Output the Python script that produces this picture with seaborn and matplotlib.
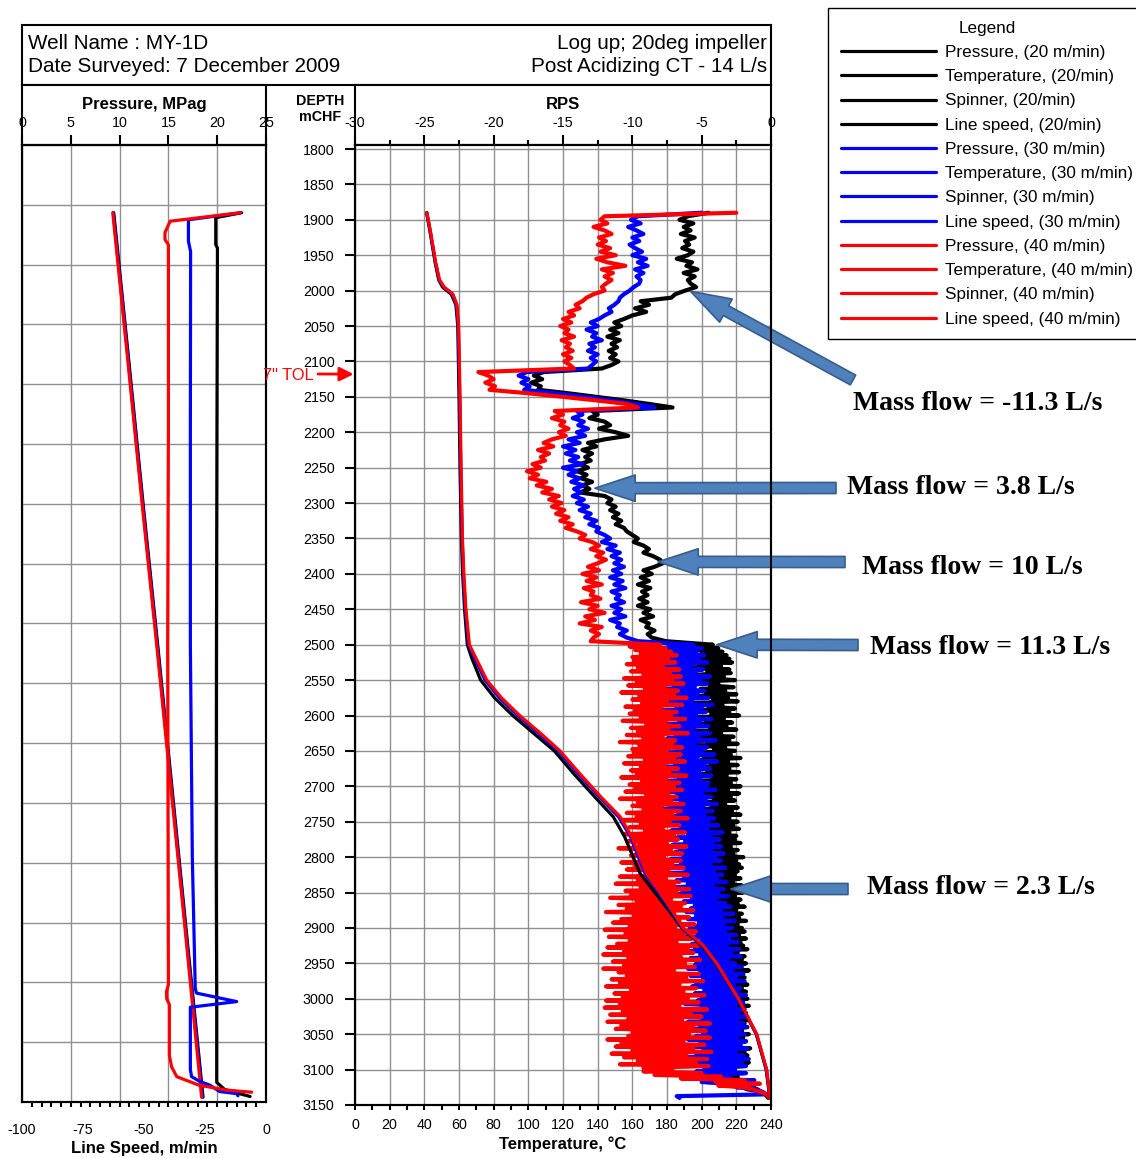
import numpy as np
import matplotlib
matplotlib.use("Agg")
import matplotlib.pyplot as plt
from matplotlib.ticker import MultipleLocator
import seaborn as sns

# ---------------- survey data (depth in mCHF) ----------------
# Spinner (RPS): every 5 m from 1890 to 2495 m, every 2.5 m from 2500 to 3140 m
spin_depth = np.concatenate([np.arange(1890, 2500, 5), np.arange(2500, 3140.1, 2.5)])

spin_20_upper = [
    -4.5, -6.0, -6.6, -5.6, -6.3, -5.8, -6.5, -5.5, -6.2, -5.9,
    -6.4, -5.6, -6.0, -6.8, -5.7, -6.1, -5.3, -6.3, -5.5, -6.0,
    -5.8, -5.4, -6.2, -6.9, -7.2, -9.4, -8.8, -9.8, -9.0, -10.0,
    -10.6, -11.3, -10.8, -11.6, -11.0, -11.8, -10.9, -11.5, -11.1, -11.7,
    -11.2, -11.6, -11.0, -11.5, -12.2, -16.4, -17.1, -16.5, -17.3, -16.6,
    -16.8, -14.6, -12.6, -10.6, -8.8, -7.1, -12.9, -12.5, -13.1, -12.0,
    -11.6, -12.4, -11.2, -10.3, -12.0, -13.2, -12.6, -13.6, -12.9, -13.4,
    -13.0, -13.8, -13.2, -14.0, -13.3, -13.7, -12.9, -13.6, -13.1, -13.8,
    -12.0, -11.5, -11.8, -11.2, -11.6, -11.0, -11.4, -10.8, -11.2, -10.6,
    -10.4, -10.0, -9.6, -9.9, -9.2, -8.8, -9.2, -8.5, -8.0, -7.8,
    -8.4, -9.2, -8.6, -9.4, -8.8, -9.6, -8.7, -9.3, -8.9, -9.5,
    -8.9, -9.6, -8.7, -9.2, -8.5, -9.4, -8.8, -9.0, -8.4, -8.9,
    -8.6, -7.6,
]
spin_20_lower = [
    -4.2, -5.3, -3.8, -5.6, -3.5, -5.0, -3.2, -5.6, -3.0, -4.9, -2.8, -5.2, -3.6, -6.0, -3.0, -4.6, -2.9, -5.4, -3.4, -4.8,
    -2.6, -5.8, -3.8, -4.4, -2.7, -5.1, -3.3, -4.7, -2.5, -5.5, -3.1, -4.2, -2.4, -5.9, -3.5, -4.5, -2.6, -5.0, -3.0, -4.3,
    -2.3, -5.6, -3.4, -4.7, -2.8, -5.3, -3.2, -4.4, -2.5, -5.7, -3.6, -4.9, -2.7, -5.2, -3.0, -4.6, -2.4, -5.4, -3.3, -4.1,
    -2.6, -5.5, -2.9, -4.8, -2.2, -5.0, -3.1, -4.3, -2.4, -5.3, -3.0, -4.6, -2.3, -5.1, -3.2, -4.2, -2.5, -5.6, -2.9, -4.4,
    -2.2, -5.0, -3.1, -4.8, -2.3, -5.3, -2.9, -4.1, -2.6, -5.4, -3.3, -4.3, -2.4, -5.0, -2.8, -4.6, -2.2, -5.5, -3.0, -4.4,
    -2.4, -4.8, -2.7, -5.2, -2.3, -4.6, -3.0, -4.1, -2.5, -5.1, -2.6, -4.4, -2.2, -5.3, -2.9, -4.7, -2.4, -4.9, -2.7, -4.3,
    -2.0, -4.6, -2.5, -4.9, -2.3, -4.2, -2.1, -4.7, -2.4, -5.0, -2.6, -4.5, -2.2, -4.4, -2.7, -4.8, -2.1, -4.3, -2.5, -4.6,
    -2.0, -4.4, -2.6, -4.9, -2.2, -4.1, -2.4, -4.6, -1.9, -4.5, -2.5, -4.2, -2.1, -4.7, -2.3, -4.0, -1.8, -4.4, -2.4, -4.1,
    -2.1, -4.6, -1.9, -4.0, -2.3, -4.4, -1.8, -3.9, -2.2, -4.5, -2.0, -4.1, -1.7, -4.2, -2.4, -3.8, -1.9, -4.3, -2.1, -3.9,
    -1.8, -4.4, -2.2, -3.9, -1.6, -4.1, -2.0, -3.7, -1.9, -4.3, -2.3, -3.8, -1.7, -4.0, -2.1, -3.6, -1.8, -4.2, -2.0, -3.7,
    -1.7, -3.9, -2.2, -4.2, -1.6, -3.6, -2.0, -4.0, -1.8, -3.8, -2.3, -3.5, -1.6, -4.1, -1.9, -3.7, -1.7, -3.9, -2.1, -3.6,
    -1.6, -4.2, -2.0, -3.7, -1.8, -3.9, -2.2, -3.5, -1.5, -4.0, -1.9, -3.6, -1.7, -4.3, -2.1, -3.8, -1.6, -4.5, -2.0, -3.7,
    -2.6, -5.2, -2.0, -6.8, -2.4, -6.0, -1.5, -4.7, -2.0, -3.0, -1.2, -1.8, -1.0, -0.6, -0.4, -0.3, -0.2,
]

spin_30_upper = [
    -5.0, -9.6, -10.1, -9.4, -10.3, -9.7, -9.2, -10.0, -9.5, -10.2,
    -9.8, -9.3, -10.0, -9.0, -9.6, -8.9, -9.8, -9.2, -9.7, -9.4,
    -9.5, -9.9, -10.2, -10.6, -10.9, -11.0, -11.3, -11.7, -11.5, -12.0,
    -12.4, -13.0, -12.5, -13.3, -12.6, -12.9, -12.2, -13.1, -12.7, -13.2,
    -12.5, -13.0, -12.6, -12.9, -13.2, -17.6, -18.2, -17.5, -18.0, -17.4,
    -17.8, -15.5, -13.5, -11.5, -9.8, -8.4, -14.0, -13.6, -14.3, -13.5,
    -13.9, -13.2, -14.0, -13.4, -14.6, -13.8, -15.0, -14.1, -14.8, -13.9,
    -14.5, -13.6, -15.0, -14.0, -14.6, -13.8, -14.4, -13.5, -14.2, -13.7,
    -14.3, -13.5, -14.0, -13.2, -13.8, -13.0, -13.4, -12.6, -13.1, -12.4,
    -12.6, -12.0, -11.6, -12.2, -11.2, -11.8, -10.9, -11.5, -10.8, -11.3,
    -10.6, -11.4, -10.8, -11.6, -10.7, -11.3, -10.5, -11.5, -10.9, -11.2,
    -10.6, -11.5, -10.8, -11.3, -10.5, -11.6, -10.9, -11.1, -10.4, -10.9,
    -10.4, -9.6,
]
spin_30_lower = [
    -5.6, -7.4, -5.0, -7.8, -5.4, -7.0, -4.8, -8.0, -5.2, -7.2, -4.6, -7.6, -5.8, -8.2, -4.9, -6.9, -5.4, -7.9, -4.4, -7.3,
    -5.1, -8.4, -4.6, -7.0, -5.5, -7.8, -4.8, -6.6, -5.3, -8.1, -4.5, -7.3, -5.7, -8.3, -4.2, -6.8, -5.0, -7.9, -4.7, -7.1,
    -5.4, -8.0, -4.3, -6.6, -5.1, -7.7, -4.5, -7.2, -5.6, -8.2, -4.4, -6.9, -5.2, -7.5, -4.0, -7.0, -5.5, -8.3, -4.6, -6.7,
    -5.0, -7.8, -4.1, -6.4, -5.3, -7.3, -3.9, -6.9, -4.8, -7.6, -4.4, -7.1, -5.2, -8.0, -4.3, -6.6, -5.1, -7.7, -4.5, -7.2,
    -4.6, -7.0, -4.0, -7.5, -5.0, -6.8, -4.3, -7.9, -4.7, -6.5, -3.9, -7.3, -4.9, -8.1, -4.2, -6.7, -4.8, -7.4, -4.1, -7.0,
    -4.5, -7.6, -3.8, -6.5, -4.6, -7.2, -3.5, -6.0, -4.4, -6.8, -3.7, -6.2, -4.2, -7.1, -3.6, -6.6, -4.3, -6.9, -3.4, -6.3,
    -4.0, -7.2, -3.6, -6.5, -4.4, -6.9, -3.3, -6.1, -4.1, -7.4, -3.5, -6.3, -3.9, -6.8, -3.2, -6.0, -4.2, -7.1, -3.4, -6.4,
    -3.8, -6.6, -3.1, -5.7, -4.0, -6.3, -3.3, -5.5, -2.9, -5.8, -3.6, -6.1, -2.7, -5.4, -3.5, -6.0, -2.6, -5.2, -3.4, -5.9,
    -2.8, -5.9, -3.3, -5.3, -2.5, -6.2, -3.0, -5.0, -2.4, -5.7, -3.2, -5.5, -2.3, -6.0, -2.9, -5.1, -2.2, -5.8, -3.1, -5.4,
    -2.6, -5.5, -2.1, -6.0, -2.8, -5.1, -2.0, -5.8, -2.5, -4.9, -1.9, -5.4, -2.7, -5.7, -2.2, -4.8, -2.4, -5.5, -1.8, -5.0,
    -2.3, -5.3, -2.0, -6.2, -2.6, -5.0, -1.9, -5.7, -2.3, -5.5, -1.7, -4.9, -2.4, -6.0, -2.0, -5.1, -1.8, -5.8, -2.2, -4.9,
    -1.9, -5.4, -2.4, -6.0, -1.8, -5.1, -2.2, -5.8, -1.7, -4.9, -2.6, -5.4, -2.0, -6.0, -1.6, -5.2, -2.1, -5.6, -1.8, -4.8,
    -2.6, -5.4, -1.8, -4.8, -3.0, -6.4, -1.2, -5.0, -3.0, -1.4, -2.5, -1.0, -0.8, -0.5, -0.4, -6.8, -6.6,
]

spin_40_upper = [
    -2.5, -12.0, -12.3, -11.8, -12.8, -12.0, -11.5, -12.4, -11.9, -12.5,
    -11.6, -12.3, -11.2, -12.6, -11.8, -10.5, -12.2, -11.4, -12.0, -11.5,
    -11.9, -12.2, -12.0, -12.8, -13.3, -13.6, -14.1, -13.8, -14.6, -14.2,
    -15.0, -14.4, -15.2, -14.6, -14.9, -14.2, -15.1, -14.5, -14.8, -14.3,
    -15.0, -14.4, -14.9, -14.5, -14.2, -21.1, -20.4, -20.0, -20.6, -19.9,
    -20.3, -17.5, -15.0, -12.6, -10.4, -9.6, -15.6, -15.0, -15.8, -14.9,
    -15.2, -14.6, -15.3, -14.8, -15.8, -16.4, -15.7, -16.8, -16.0, -16.6,
    -16.3, -17.2, -16.6, -17.6, -16.8, -17.4, -16.2, -16.9, -15.8, -16.5,
    -15.3, -16.0, -15.1, -15.8, -14.9, -15.5, -14.6, -15.2, -14.3, -14.8,
    -14.0, -13.4, -13.8, -12.9, -12.4, -13.0, -12.1, -12.6, -11.9, -12.5,
    -13.2, -12.4, -13.6, -12.6, -13.3, -12.2, -13.5, -12.8, -13.0, -12.3,
    -13.7, -12.5, -13.1, -12.0, -13.4, -12.7, -13.8, -12.2, -13.0, -12.4,
    -12.8, -13.0,
]
spin_40_lower = [
    -8.0, -10.2, -7.6, -9.8, -7.2, -9.4, -6.8, -10.0, -7.4, -9.9, -6.9, -10.4, -7.8, -9.6, -6.6, -10.1, -7.3, -9.2, -6.5, -10.6,
    -7.1, -9.7, -6.3, -10.3, -7.7, -9.1, -6.7, -10.8, -7.0, -9.5, -6.1, -10.0, -7.5, -9.3, -6.4, -10.5, -7.9, -9.8, -6.8, -10.2,
    -7.2, -9.4, -6.2, -10.7, -7.6, -9.0, -6.6, -10.1, -7.4, -9.6, -6.0, -10.4, -7.8, -9.2, -6.9, -10.9, -7.1, -9.5, -6.4, -10.0,
    -7.5, -9.9, -6.5, -10.3, -7.0, -9.1, -6.2, -10.6, -7.7, -9.4, -6.7, -10.1, -7.3, -9.7, -6.1, -10.8, -7.6, -9.3, -6.6, -10.2,
    -7.0, -9.8, -6.4, -10.5, -7.4, -9.0, -6.8, -10.9, -7.2, -9.6, -6.3, -10.0, -7.9, -9.2, -6.5, -10.4, -7.1, -9.7, -6.0, -10.7,
    -7.3, -9.4, -6.6, -10.2, -7.8, -9.1, -6.2, -10.6, -7.0, -9.9, -6.7, -10.3, -7.5, -9.5, -6.1, -11.0, -7.2, -9.6, -6.4, -10.1,
    -7.7, -9.3, -6.5, -10.8, -7.1, -9.8, -6.3, -10.4, -7.4, -9.0, -6.0, -10.9, -7.6, -9.6, -6.6, -11.2, -7.0, -9.4, -5.9, -10.5,
    -6.8, -10.1, -5.8, -11.6, -7.2, -9.7, -6.2, -11.0, -6.5, -10.4, -5.6, -11.9, -7.0, -9.9, -5.9, -10.8, -6.6, -11.4, -5.5, -10.2,
    -6.9, -12.0, -5.4, -10.5, -6.3, -11.7, -5.7, -10.2, -6.8, -11.1, -5.3, -11.8, -6.0, -10.6, -5.6, -12.1, -6.5, -10.3, -5.1, -11.4,
    -6.2, -10.6, -5.5, -12.1, -7.0, -11.0, -5.2, -10.4, -6.1, -11.5, -4.9, -10.9, -6.6, -11.9, -5.4, -10.1, -6.3, -11.3, -4.8, -10.7,
    -6.0, -11.9, -5.2, -10.9, -6.6, -12.0, -4.6, -10.7, -5.8, -11.6, -5.0, -10.3, -6.4, -11.8, -4.4, -10.8, -5.6, -11.2, -4.7, -10.0,
    -5.9, -10.3, -4.4, -11.8, -6.3, -10.8, -4.8, -11.2, -5.6, -10.0, -4.3, -11.5, -6.1, -10.6, -4.6, -9.6, -5.4, -10.9, -4.5, -9.2,
    -7.1, -9.2, -5.0, -8.4, -3.6, -6.5, -1.9, -4.0, -0.8, -3.8, -2.0, -1.4, -1.0, -0.6, -0.3, -0.2, -0.1,
]

# Temperature (deg C)
temp_depth = [1890, 1920, 1960, 1985, 1995, 2005, 2020, 2050, 2150, 2250,
              2350, 2400, 2450, 2500, 2520, 2550, 2575, 2600, 2625, 2650,
              2683, 2714, 2743, 2771, 2800, 2823, 2850, 2878, 2900, 2925,
              2950, 3000, 3050, 3100, 3138]
temp_20 = [41.3, 43.5, 46.2, 48.3, 50.5, 55.5, 58.2, 59.3, 60.0, 60.6,
           61.4, 62.1, 63.2, 64.8, 67.5, 72.5, 80.5, 91.0, 103.0, 115.0,
           126.5, 138.0, 149.0, 155.5, 160.5, 164.5, 173.0, 182.0, 188.5, 200.0,
           208.0, 220.8, 231.5, 237.2, 239.2]
temp_30 = [41.5, 43.7, 46.4, 48.6, 51.2, 56.2, 58.6, 59.6, 60.4, 61.0,
           61.8, 62.6, 63.7, 65.6, 69.2, 75.0, 83.3, 93.8, 105.8, 117.3,
           129.0, 140.6, 152.0, 158.9, 163.5, 167.4, 175.2, 183.1, 189.0, 200.6,
           208.4, 221.0, 231.6, 237.4, 239.3]
temp_40 = [41.5, 43.8, 46.5, 48.8, 51.5, 56.5, 58.8, 59.8, 60.6, 61.2,
           62.0, 62.8, 64.0, 66.0, 70.0, 76.0, 84.5, 95.0, 107.0, 118.3,
           130.0, 141.5, 153.0, 159.7, 164.5, 168.3, 176.0, 183.7, 189.4, 201.0,
           208.7, 221.2, 231.8, 237.5, 239.4]

# Pressure (MPag)
press_depth = [1890, 2100, 2300, 2500, 2700, 2900, 3139]
press_20 = [9.40, 10.95, 12.40, 13.90, 15.35, 16.80, 18.55]
press_30 = [9.35, 10.90, 12.35, 13.85, 15.30, 16.75, 18.50]
press_40 = [9.30, 10.85, 12.30, 13.80, 15.25, 16.70, 18.40]

# Line speed (m/min, negative = logging up)
ls20_depth = [1890, 1897, 1935, 1940, 2200, 2500, 2800, 3000, 3118, 3128, 3133, 3138]
ls20 = [-10.0, -20.6, -20.6, -19.9, -20.1, -20.3, -20.4, -20.2, -20.2, -17.0, -12.0, -6.5]
ls30_depth = [1890, 1900, 1930, 1945, 2200, 2500, 2800, 2985, 2992, 3004, 3012,
              3100, 3110, 3117, 3122, 3131, 3134, 3137]
ls30 = [-10.5, -31.8, -31.8, -30.9, -31.0, -31.0, -30.2, -29.0, -28.5, -12.0, -31.0,
        -31.0, -30.5, -27.0, -23.0, -19.0, -12.0, -11.5]
ls40_depth = [1890, 1902, 1918, 1928, 1935, 2200, 2500, 2980, 2990, 3000, 3008,
              3080, 3096, 3110, 3122, 3129, 3132]
ls40 = [-10.5, -39.3, -41.4, -41.4, -40.0, -40.0, -40.3, -40.0, -40.8, -40.7, -39.6,
        -39.6, -38.7, -36.6, -27.5, -16.1, -5.9]

# Mass-flow interpretation: (label, RPS, depth) of the arrow tip
mass_flow_notes = [
    ("Mass flow = -11.3 L/s", -5.8, 2001),
    ("Mass flow = 3.8 L/s", -12.7, 2279),
    ("Mass flow = 10 L/s", -8.15, 2383),
    ("Mass flow = 11.3 L/s", -3.9, 2500),
    ("Mass flow = 2.3 L/s", -2.9, 2845),
]
tol_depth = 2118  # 7" liner top

run_colors = {"20": "#000000", "30": "#0000FF", "40": "#FF0000"}
spin_runs = {"20": spin_20_upper + spin_20_lower,
             "30": spin_30_upper + spin_30_lower,
             "40": spin_40_upper + spin_40_lower}

# ---------------- style ----------------
sns.set_style("white", rc={"axes.edgecolor": "black", "xtick.color": "black",
                           "ytick.color": "black", "text.color": "black",
                           "axes.labelcolor": "black"})
plt.rcParams["font.family"] = ["Liberation Sans", "DejaVu Sans"]
plt.rcParams["axes.unicode_minus"] = False
plt.rcParams["axes.linewidth"] = 1.5

W, H = 1136, 1158
GRID = dict(color="#8f8f8f", linewidth=1.0)
TICK_FS = 10.3
LW = 2.3
SPIN_LW = 3.0


def rect(x0, y0, x1, y1):
    """Pixel box (top-left origin) -> figure fraction rect."""
    return [x0 / W, 1 - y1 / H, (x1 - x0) / W, (y1 - y0) / H]


fig = plt.figure(figsize=(W / 100, H / 100), dpi=100)

# ---- header box ----
ax_head = fig.add_axes(rect(22, 25, 771, 85))
ax_head.set_xticks([])
ax_head.set_yticks([])
for txt, xa, ya, ha in (("Well Name : MY-1D", 0.008, 0.69, "left"),
                        ("Date Surveyed: 7 December 2009", 0.008, 0.30, "left"),
                        ("Log up; 20deg impeller", 0.995, 0.69, "right"),
                        ("Post Acidizing CT - 14 L/s", 0.995, 0.30, "right")):
    ax_head.text(xa, ya, txt, transform=ax_head.transAxes, fontsize=14.9,
                 va="center", ha=ha)

# ---- title strips ----
ax_pstrip = fig.add_axes(rect(22, 85, 266, 145))
ax_rstrip = fig.add_axes(rect(355, 85, 771, 145))
for a in (ax_pstrip, ax_rstrip):
    a.set_xticks([])
    a.set_yticks([])
ax_pstrip.text(0.5, 0.68, "Pressure, MPag", transform=ax_pstrip.transAxes,
               ha="center", va="center", fontweight="bold", fontsize=12)
ax_rstrip.text(0.5, 0.68, "RPS", transform=ax_rstrip.transAxes,
               ha="center", va="center", fontweight="bold", fontsize=12)
fig.text(320 / W, 1 - 109 / H, "DEPTH\nmCHF", ha="center", va="center",
         fontweight="bold", fontsize=10.3, linespacing=1.1)

handles = {}

# ---- left panel: pressure (top axis) and line speed (bottom axis) ----
ax_p = fig.add_axes(rect(22, 145, 266, 1102))
ax_ls = ax_p.twiny()

for run, vals in (("20", press_20), ("30", press_30), ("40", press_40)):
    sns.lineplot(x=vals, y=press_depth, orient="y", estimator=None, color=run_colors[run],
                 linewidth=LW, legend=False, ax=ax_p)
    handles[("P", run)] = ax_p.lines[-1]

for run, d, vals in (("20", ls20_depth, ls20), ("30", ls30_depth, ls30), ("40", ls40_depth, ls40)):
    sns.lineplot(x=vals, y=d, orient="y", estimator=None, color=run_colors[run],
                 linewidth=LW, legend=False, ax=ax_ls)
    handles[("L", run)] = ax_ls.lines[-1]

ax_p.set_xlim(0, 25)
ax_p.set_ylim(3145.8, 1794.35)
ax_p.xaxis.tick_top()
ax_p.xaxis.set_major_locator(MultipleLocator(5))
ax_p.tick_params(axis="x", which="major", direction="out", length=7.2, width=1.5,
                 pad=3.3, labelsize=TICK_FS, top=True, bottom=False,
                 labeltop=True, labelbottom=False)
ax_p.set_yticks(np.linspace(1794.35, 3145.8, 17))
ax_p.tick_params(axis="y", length=0, labelleft=False)
ax_p.grid(True, which="major", **GRID)
ax_p.set_axisbelow(True)
ax_p.set_xlabel("")
ax_p.set_ylabel("")

ax_ls.set_xlim(-100, 0)
ax_ls.set_ylim(3145.8, 1794.35)
ax_ls.xaxis.tick_bottom()
ax_ls.xaxis.set_label_position("bottom")
ax_ls.xaxis.set_major_locator(MultipleLocator(25))
ax_ls.xaxis.set_minor_locator(MultipleLocator(4))
ax_ls.tick_params(axis="x", which="major", length=0, pad=15, labelsize=TICK_FS,
                  top=False, bottom=True)
ax_ls.tick_params(axis="x", which="minor", direction="out", length=3.6, width=1.5,
                  top=False, bottom=True)
ax_ls.set_xlabel("Line Speed, m/min", fontweight="bold", fontsize=12, labelpad=3)
ax_ls.set_ylabel("")

# ---- right panel: spinner (top axis) and temperature (bottom axis) ----
ax_s = fig.add_axes(rect(355, 145, 771, 1105))
ax_t = ax_s.twiny()

for run in ("20", "30", "40"):
    sns.lineplot(x=spin_runs[run], y=spin_depth, orient="y", estimator=None,
                 color=run_colors[run], linewidth=SPIN_LW, legend=False, ax=ax_s)
    handles[("S", run)] = ax_s.lines[-1]

for run, vals in (("20", temp_20), ("30", temp_30), ("40", temp_40)):
    sns.lineplot(x=vals, y=temp_depth, orient="y", estimator=None, color=run_colors[run],
                 linewidth=LW, legend=False, ax=ax_t)
    handles[("T", run)] = ax_t.lines[-1]

ax_s.set_xlim(-30, 0)
ax_s.set_ylim(3150, 1794.35)
ax_s.xaxis.tick_top()
ax_s.xaxis.set_major_locator(MultipleLocator(5))
ax_s.xaxis.set_minor_locator(MultipleLocator(2.5))
ax_s.tick_params(axis="x", which="major", direction="out", length=7.2, width=1.5,
                 pad=3.3, labelsize=TICK_FS, top=True, bottom=False,
                 labeltop=True, labelbottom=False)
ax_s.tick_params(axis="x", which="minor", direction="out", length=3.6, width=1.5,
                 top=True, bottom=False)
ax_s.yaxis.set_major_locator(MultipleLocator(50))
ax_s.tick_params(axis="y", which="major", direction="out", length=7.2, width=1.5,
                 pad=7.5, labelsize=TICK_FS, left=True, right=False)
ax_s.grid(True, axis="x", which="both", **GRID)
ax_s.grid(True, axis="y", which="major", **GRID)
ax_s.set_axisbelow(True)
ax_s.set_xlabel("")
ax_s.set_ylabel("")

ax_t.set_xlim(0, 240)
ax_t.set_ylim(3150, 1794.35)
ax_t.xaxis.tick_bottom()
ax_t.xaxis.set_label_position("bottom")
ax_t.xaxis.set_major_locator(MultipleLocator(20))
ax_t.xaxis.set_minor_locator(MultipleLocator(10))
ax_t.tick_params(axis="x", which="both", direction="out", length=3.6, width=1.5,
                 pad=6, labelsize=TICK_FS, top=False, bottom=True)
ax_t.set_xlabel("Temperature, \u00b0C", fontweight="bold", fontsize=12, labelpad=3)
ax_t.set_ylabel("")

# ---- legend ----
legend_labels = {
    ("P", "20"): "Pressure, (20 m/min)", ("T", "20"): "Temperature, (20/min)",
    ("S", "20"): "Spinner, (20/min)", ("L", "20"): "Line speed, (20/min)",
    ("P", "30"): "Pressure, (30 m/min)", ("T", "30"): "Temperature, (30 m/min)",
    ("S", "30"): "Spinner, (30 m/min)", ("L", "30"): "Line speed, (30 m/min)",
    ("P", "40"): "Pressure, (40 m/min)", ("T", "40"): "Temperature, (40 m/min)",
    ("S", "40"): "Spinner, (40 m/min)", ("L", "40"): "Line speed, (40 m/min)",
}
order = [(k, r) for r in ("20", "30", "40") for k in ("P", "T", "S", "L")]
leg = fig.legend([handles[o] for o in order], [legend_labels[o] for o in order],
                 loc="upper left", bbox_to_anchor=(828 / W, 1 - 8 / H),
                 bbox_transform=fig.transFigure, frameon=True, fancybox=False,
                 edgecolor="black", framealpha=1, fontsize=12.3, title="Legend",
                 title_fontsize=12.3, handlelength=5.6, handletextpad=0.5,
                 labelspacing=0.54, borderpad=0.75, borderaxespad=0)
leg.get_frame().set_linewidth(1.0)
for ln in leg.get_lines():
    ln.set_linewidth(2.3)

# ---- mass-flow call-outs ----
note_text_px = [(853, 403), (847, 488), (862, 567), (870, 648), (867, 887)]
note_tail_px = [(853, 380), (836, 488), (845, 562), (858, 645), (848, 889)]
arrow_props = dict(arrowstyle="simple,head_length=2.9,head_width=1.9,tail_width=0.8",
                   fc="#4F81BD", ec="#385D8A", lw=1.2, shrinkA=0, shrinkB=0,
                   mutation_scale=10)
for (label, rps, depth), (tx, ty), (ax_px, ay_px) in zip(mass_flow_notes, note_text_px, note_tail_px):
    ax_s.annotate("", xy=(rps, depth), xycoords="data",
                  xytext=(ax_px, H - ay_px), textcoords="figure pixels",
                  arrowprops=arrow_props, annotation_clip=False)
    fig.text(tx / W, 1 - ty / H, label, ha="left", va="center",
             family=["Liberation Serif", "DejaVu Serif"], fontweight="bold", fontsize=20)

# ---- 7" TOL marker ----
fig.text(314 / W, 1 - 375 / H, '7" TOL', ha="right", va="center", color="red", fontsize=11.7)
ax_s.annotate("", xy=(0, tol_depth), xycoords=("axes fraction", "data"),
              xytext=(318, H - 374), textcoords="figure pixels",
              arrowprops=dict(arrowstyle="-|>,head_length=0.7,head_width=0.35",
                              color="red", lw=2.0, shrinkA=0, shrinkB=1,
                              mutation_scale=12),
              annotation_clip=False)

fig.savefig("out.png", dpi=100)
